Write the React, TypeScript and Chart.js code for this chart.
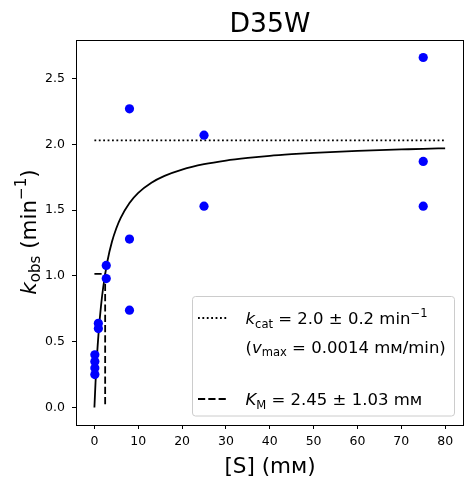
import React, { useEffect, useRef } from "react";
import { Chart, registerables } from "chart.js";

Chart.register(...registerables);

// measured points: substrate conc (mM) and observed rate (1/min)
const substrateMM = [0.1, 0.1, 0.1, 0.1, 0.9, 0.9, 2.7, 2.7, 8, 8, 8, 25, 25, 75, 75, 75];
const kObs = [0.25, 0.3, 0.35, 0.4, 0.6, 0.64, 0.98, 1.08, 0.74, 1.28, 2.27, 1.53, 2.07, 1.53, 1.87, 2.66];

// fitted curve
const fitX = [0, 0.25, 0.5, 1, 1.5, 2, 3, 4, 5, 6, 8, 10, 13, 16, 20, 25, 30, 35, 40, 45, 50, 55, 60, 65, 70, 75, 80];
const fitY = [
  0, 0.188, 0.344, 0.588, 0.771, 0.912, 1.117, 1.259, 1.362, 1.441, 1.554, 1.631, 1.708, 1.76, 1.808, 1.849, 1.877,
  1.897, 1.913, 1.925, 1.935, 1.943, 1.95, 1.956, 1.961, 1.966, 1.97,
];

const kcat = 2.03;
const KM = 2.45;
const xMax = 80;

const xTicks = [0, 10, 20, 30, 40, 50, 60, 70, 80];
const yTicks = [0, 0.5, 1, 1.5, 2, 2.5];

const FONT = "'DejaVu Sans', sans-serif";
const DOTTED = [1.8, 2.6];
const DASHED = [7.2, 3.1];

type Seg = { t: string; it?: boolean; sub?: boolean; sup?: boolean };

const segFont = (s: Seg, size: number) =>
  `${s.it ? "italic " : ""}${s.sub || s.sup ? size * 0.7 : size}px ${FONT}`;

const richWidth = (ctx: CanvasRenderingContext2D, segs: Seg[], size: number) => {
  let w = 0;
  segs.forEach((s) => {
    ctx.font = segFont(s, size);
    w += ctx.measureText(s.t).width;
  });
  return w;
};

// draws text left-aligned on baseline y, with sub/superscripts
const drawRich = (ctx: CanvasRenderingContext2D, segs: Seg[], x: number, y: number, size: number) => {
  ctx.textAlign = "left";
  ctx.textBaseline = "alphabetic";
  let cx = x;
  segs.forEach((s) => {
    ctx.font = segFont(s, size);
    let dy = 0;
    if (s.sub) dy = size * 0.22;
    if (s.sup) dy = -size * 0.42;
    ctx.fillText(s.t, cx, y + dy);
    cx += ctx.measureText(s.t).width;
  });
};

const yLabel: Seg[] = [{ t: "k", it: true }, { t: "obs", sub: true }, { t: " (min" }, { t: "−1", sup: true }, { t: ")" }];
const legendRows: { segs: Seg[]; dash: number[] | null; y: number }[] = [
  { segs: [{ t: "k", it: true }, { t: "cat", sub: true }, { t: " = 2.0 ± 0.2 min" }, { t: "−1", sup: true }], dash: DOTTED, y: 324 },
  { segs: [{ t: "(" }, { t: "v", it: true }, { t: "max", sub: true }, { t: " = 0.0014 mм/min)" }], dash: null, y: 352.5 },
  { segs: [{ t: "K", it: true }, { t: "M", sub: true }, { t: " = 2.45 ± 1.03 mм" }], dash: DASHED, y: 405 },
];

const annotate = {
  id: "annotate",
  afterDatasetsDraw(chart: Chart) {
    const ctx = chart.ctx;
    ctx.save();
    // legend box
    const bx = 192.5, by = 296.5, bw = 262, bh = 119.5, r = 3;
    ctx.beginPath();
    ctx.roundRect(bx, by, bw, bh, r);
    ctx.fillStyle = "rgba(255,255,255,0.8)";
    ctx.fill();
    ctx.strokeStyle = "#cccccc";
    ctx.lineWidth = 1;
    ctx.stroke();
    legendRows.forEach((row) => {
      if (row.dash) {
        ctx.beginPath();
        ctx.setLineDash(row.dash);
        ctx.strokeStyle = "#000";
        ctx.lineWidth = 1.8;
        ctx.moveTo(198, row.y - 6);
        ctx.lineTo(228, row.y - 6);
        ctx.stroke();
        ctx.setLineDash([]);
      }
      ctx.fillStyle = "#000";
      drawRich(ctx, row.segs, 245.5, row.y, 16.5);
    });
    ctx.restore();
  },
  afterDraw(chart: Chart) {
    const ctx = chart.ctx;
    const a = chart.chartArea;
    ctx.save();
    ctx.strokeStyle = "#000";
    ctx.lineWidth = 1;
    ctx.strokeRect(Math.round(a.left) + 0.5, Math.round(a.top) + 0.5, Math.round(a.right - a.left) - 1, Math.round(a.bottom - a.top));
    ctx.fillStyle = "#000";
    const cx = (a.left + a.right) / 2;
    // title
    ctx.font = `26.7px ${FONT}`;
    ctx.textAlign = "center";
    ctx.textBaseline = "alphabetic";
    ctx.fillText("D35W", cx, 31.5);
    // x label
    ctx.font = `21.5px ${FONT}`;
    ctx.fillText("[S] (mм)", cx, 472.5);
    // y label, rotated
    const w = richWidth(ctx, yLabel, 21.5);
    ctx.translate(35.5, 232);
    ctx.rotate(-Math.PI / 2);
    drawRich(ctx, yLabel, -w / 2, 0, 21.5);
    ctx.restore();
  },
};

const App = () => {
  const canvasRef = useRef<HTMLCanvasElement | null>(null);

  useEffect(() => {
    document.body.style.margin = "0";
    const canvas = canvasRef.current;
    if (!canvas) return;
    const points = substrateMM.map((x, i) => ({ x, y: kObs[i] }));
    const fit = fitX.map((x, i) => ({ x, y: fitY[i] }));
    const chart = new Chart(canvas, {
      type: "scatter",
      data: {
        datasets: [
          {
            data: points,
            backgroundColor: "#0000ff",
            borderWidth: 0,
            pointRadius: 4.6,
            order: 0,
          },
          {
            data: fit,
            showLine: true,
            borderColor: "#000",
            borderWidth: 1.8,
            pointRadius: 0,
            cubicInterpolationMode: "monotone",
            order: 1,
          },
          {
            data: [{ x: 0, y: kcat }, { x: xMax, y: kcat }],
            showLine: true,
            borderColor: "#000",
            borderWidth: 1.8,
            borderDash: DOTTED,
            pointRadius: 0,
            order: 2,
          },
          {
            data: [{ x: 0, y: kcat / 2 }, { x: KM, y: kcat / 2 }, { x: KM, y: 0 }],
            showLine: true,
            borderColor: "#000",
            borderWidth: 1.8,
            borderDash: DASHED,
            pointRadius: 0,
            order: 3,
          },
        ],
      },
      options: {
        responsive: false,
        animation: false,
        layout: { padding: { top: 40, right: 9, left: 0, bottom: 0 } },
        plugins: { legend: { display: false }, tooltip: { enabled: false } },
        scales: {
          x: {
            type: "linear",
            min: -4.2,
            max: 84.3,
            afterBuildTicks: (s: any) => {
              s.ticks = xTicks.map((v) => ({ value: v }));
            },
            afterFit: (s: any) => {
              s.height = 59;
            },
            grid: { drawOnChartArea: false, drawTicks: true, tickLength: 4, color: "#000" },
            border: { display: false },
            ticks: { color: "#000", font: { family: FONT, size: 12.5 }, padding: 5, maxRotation: 0 },
          },
          y: {
            type: "linear",
            min: -0.133,
            max: 2.793,
            afterBuildTicks: (s: any) => {
              s.ticks = yTicks.map((v) => ({ value: v }));
            },
            afterFit: (s: any) => {
              s.width = 76;
            },
            grid: { drawOnChartArea: false, drawTicks: true, tickLength: 4, color: "#000" },
            border: { display: false },
            ticks: {
              color: "#000",
              font: { family: FONT, size: 12.5 },
              padding: 7,
              callback: (v: any) => Number(v).toFixed(1),
            },
          },
        },
      },
      plugins: [annotate],
    });
    return () => chart.destroy();
  }, []);

  return (
    <div style={{ width: 473, height: 484 }}>
      <canvas ref={canvasRef} width={473} height={484} />
    </div>
  );
};

export default App;
